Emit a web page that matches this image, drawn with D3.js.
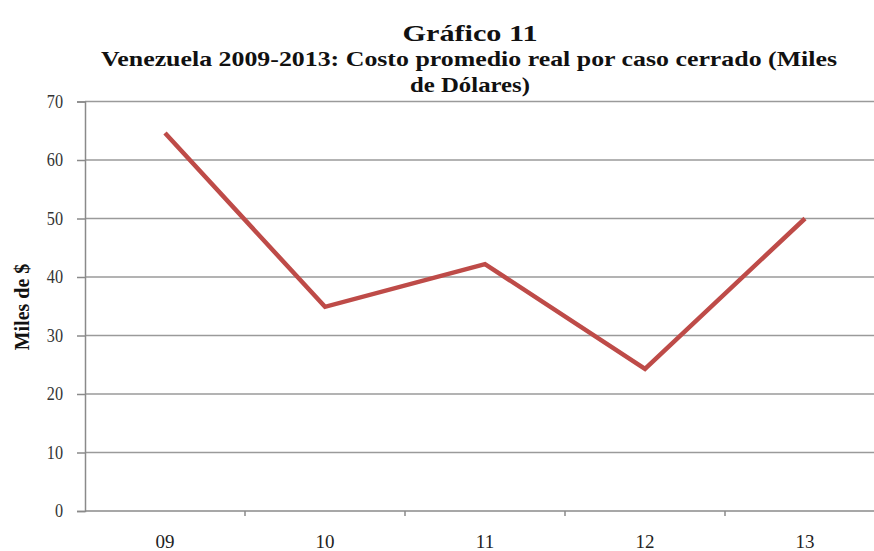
<!DOCTYPE html>
<html>
<head>
<meta charset="utf-8">
<script src="https://cdn.jsdelivr.net/npm/d3@7"></script>
<style>
  html, body { margin: 0; padding: 0; background: #fff; }
  svg { display: block; }
</style>
</head>
<body>
<svg id="chart" width="874" height="551"></svg>
<script>
const categories = ["09", "10", "11", "12", "13"];
const values = [64.6, 34.9, 42.2, 24.3, 50.0];
const yTicks = [0, 10, 20, 30, 40, 50, 60, 70];
const titleText = "Gráfico 11";
const subtitleLines = ["Venezuela 2009-2013: Costo promedio real por caso cerrado (Miles", "de Dólares)"];
const yAxisTitle = "Miles de $";

(function () {
const svg = d3.select("#chart");
const W = 874, H = 551;
const mLeft = 85, plotRight = 885, mTop = 101.5, mBottom = 511;
const serif = "'Liberation Serif', 'Times New Roman', serif";

const x = d3.scaleBand().domain(categories).range([mLeft, plotRight]).padding(0);
const y = d3.scaleLinear().domain([0, 70]).range([mBottom, mTop]);

// gridlines
svg.append("g")
  .selectAll("line")
  .data(yTicks.filter(d => d > 0))
  .join("line")
  .attr("x1", mLeft).attr("x2", W)
  .attr("y1", d => y(d)).attr("y2", d => y(d))
  .attr("stroke", "#9a9a9a").attr("stroke-width", 1.5);

// y axis
const yAxis = svg.append("g")
  .attr("transform", `translate(${mLeft},0)`)
  .call(d3.axisLeft(y).tickValues(yTicks).tickSize(8).tickPadding(12).tickFormat(d3.format("d")));
yAxis.select(".domain").attr("stroke", "#8a8a8a").attr("stroke-width", 1.5);
yAxis.selectAll(".tick line").attr("stroke", "#8a8a8a").attr("stroke-width", 1.5);
yAxis.selectAll("text").attr("font-family", serif).attr("font-size", 18).attr("fill", "#333")
  .attr("transform", "scale(0.9,1)").attr("x", -22 / 0.9);

// x axis
const xAxis = svg.append("g")
  .attr("transform", `translate(0,${mBottom})`)
  .call(d3.axisBottom(x).tickSize(0).tickPadding(24));
xAxis.select(".domain").remove();
xAxis.append("line").attr("x1", mLeft).attr("x2", W).attr("y1", 0).attr("y2", 0)
  .attr("stroke", "#8a8a8a").attr("stroke-width", 1.5);
xAxis.selectAll(".tick text").attr("font-family", serif).attr("font-size", 19).attr("fill", "#222");
// boundary ticks between categories
xAxis.append("g").selectAll("line")
  .data(categories.slice(1))
  .join("line")
  .attr("x1", d => x(d)).attr("x2", d => x(d))
  .attr("y1", 0).attr("y2", 5)
  .attr("stroke", "#8a8a8a").attr("stroke-width", 1.5);

// line
const line = d3.line()
  .x((d, i) => x(categories[i]) + x.bandwidth() / 2)
  .y(d => y(d));
svg.append("path")
  .datum(values)
  .attr("d", line)
  .attr("fill", "none")
  .attr("stroke", "#BE4B48")
  .attr("stroke-width", 4.5)
  .attr("stroke-linejoin", "miter");

// titles
svg.append("text")
  .attr("x", 470).attr("y", 41)
  .attr("text-anchor", "middle")
  .attr("font-family", serif).attr("font-weight", "bold").attr("font-size", 24)
  .attr("fill", "#111")
  .attr("textLength", 135).attr("lengthAdjust", "spacingAndGlyphs")
  .text(titleText);

svg.append("text")
  .attr("x", 469).attr("y", 66)
  .attr("text-anchor", "middle")
  .attr("font-family", serif).attr("font-weight", "bold").attr("font-size", 21)
  .attr("fill", "#111")
  .attr("textLength", 736).attr("lengthAdjust", "spacingAndGlyphs")
  .text(subtitleLines[0]);

svg.append("text")
  .attr("x", 470).attr("y", 92)
  .attr("text-anchor", "middle")
  .attr("font-family", serif).attr("font-weight", "bold").attr("font-size", 21)
  .attr("fill", "#111")
  .attr("textLength", 120).attr("lengthAdjust", "spacingAndGlyphs")
  .text(subtitleLines[1]);

// y axis title
svg.append("text")
  .attr("transform", `translate(29,307) rotate(-90)`)
  .attr("text-anchor", "middle")
  .attr("font-family", serif).attr("font-weight", "bold").attr("font-size", 20)
  .attr("fill", "#111")
  .text(yAxisTitle);
})();
</script>
</body>
</html>
